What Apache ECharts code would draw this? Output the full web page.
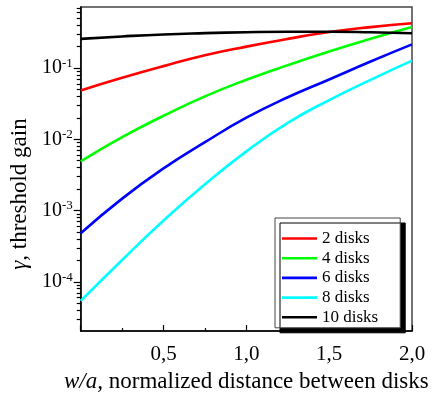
<!DOCTYPE html>
<html>
<head>
<meta charset="utf-8">
<script src="https://cdn.jsdelivr.net/npm/echarts@6/dist/echarts.min.js"></script>
<style>
  html, body { margin: 0; padding: 0; background: #fff; }
  #chart { width: 432px; height: 398px; }
</style>
</head>
<body>
<div id="chart"></div>
<script>
const xValues = [0, 0.25, 0.5, 0.75, 1.0, 1.25, 1.5, 1.75, 2.0]
const gain2 = [0.0485, 0.073, 0.1065, 0.151, 0.200, 0.257, 0.321, 0.376, 0.426]
const gain4 = [0.0049, 0.0107, 0.0214, 0.0401, 0.0685, 0.110, 0.171, 0.257, 0.376]
const gain6 = [0.00048, 0.00147, 0.0039, 0.0091, 0.0201, 0.0389, 0.0692, 0.1235, 0.215]
const gain8 = [0.0000538, 0.000202, 0.000724, 0.00234, 0.00676, 0.0170, 0.0355, 0.0684, 0.1274]
const gain10 = [0.257, 0.278, 0.2965, 0.309, 0.319, 0.324, 0.324, 0.318, 0.308]

const seriesNames = ['2 disks', '4 disks', '6 disks', '8 disks', '10 disks']
const seriesColors = ['#ff0000', '#00ff00', '#0000ff', '#00ffff', '#000000']
const seriesData = [gain2, gain4, gain6, gain8, gain10]

const xTickLabels = ['', '0,5', '1,0', '1,5', '2,0']
const yTickPowers = [-4, -3, -2, -1]
const yRange = [2.03e-5, 0.72]

const font = 'Liberation Serif'
const yMin = Math.log10(yRange[0])
const yMax = Math.log10(yRange[1])

// minor decade ticks (2..9 x 10^p)
const yMinorTicks = []
for (let p = -5; p <= 0; p++) {
  for (let k = 2; k <= 9; k++) {
    const v = Math.log10(k * Math.pow(10, p))
    if (v > yMin && v < yMax) yMinorTicks.push(v)
  }
}

const chart = echarts.init(document.getElementById('chart'))
chart.setOption({
  animation: false,
  grid: {
    left: 80, right: 20, top: 7, bottom: 58,
    show: true, borderColor: '#444', borderWidth: 1.5
  },
  legend: {
    data: seriesNames,
    orient: 'vertical',
    left: 275, top: 218,
    icon: 'path://M0,0H35V2.6H0Z',
    itemWidth: 35, itemHeight: 14, itemGap: 2.7,
    padding: [12, 22, 2, 7],
    backgroundColor: '#fff',
    borderColor: '#444', borderWidth: 1,
    shadowColor: '#000', shadowOffsetX: 5, shadowOffsetY: 5, shadowBlur: 0,
    textStyle: { fontFamily: font, fontSize: 17, color: '#000' }
  },
  xAxis: {
    type: 'value',
    min: 0, max: 2, interval: 0.5,
    splitLine: { show: false },
    axisLine: { lineStyle: { color: '#000', width: 1.5 } },
    axisTick: { inside: true, length: 6, lineStyle: { color: '#000', width: 1.2 } },
    minorTick: { show: true, splitNumber: 2, length: 3, lineStyle: { color: '#000', width: 1.2 } },
    axisLabel: {
      margin: 13,
      fontFamily: font, fontSize: 21, color: '#000',
      formatter: v => xTickLabels[Math.round(v / 0.5)] || ''
    },
    name: '{i|w/a,} normalized distance between disks',
    nameLocation: 'middle',
    nameGap: 33,
    nameTextStyle: {
      fontFamily: font, fontSize: 23, color: '#000',
      rich: { i: { fontFamily: font, fontSize: 23, fontStyle: 'italic', color: '#000' } }
    }
  },
  yAxis: [
    {
      type: 'value',
      min: yMin, max: yMax,
      splitLine: { show: false },
      axisLine: { lineStyle: { color: '#000', width: 1.5 } },
      axisTick: { customValues: yTickPowers, length: 7, lineStyle: { color: '#000', width: 1.2 } },
      axisLabel: {
        customValues: yTickPowers,
        margin: 8,
        formatter: v => '{b|10}{s|' + Math.round(v) + '}',
        rich: {
          b: { fontFamily: font, fontSize: 20, color: '#000', lineHeight: 22 },
          s: { fontFamily: font, fontSize: 13, color: '#000', lineHeight: 13, verticalAlign: 'top' }
        }
      },
      name: '{i|γ,} threshold gain',
      nameLocation: 'middle',
      nameGap: 46,
      nameTextStyle: {
        fontFamily: font, fontSize: 23, color: '#000',
        padding: [0, 50, 0, 0],
        rich: { i: { fontFamily: font, fontSize: 23, fontStyle: 'italic', color: '#000' } }
      }
    },
    {
      type: 'value',
      min: yMin, max: yMax,
      position: 'left',
      splitLine: { show: false },
      axisLine: { show: false },
      axisTick: { customValues: yMinorTicks, length: 4, lineStyle: { color: '#000', width: 1.2 } },
      axisLabel: { show: false }
    }
  ],
  series: seriesData.map((arr, i) => ({
    name: seriesNames[i],
    type: 'line',
    smooth: true,
    symbol: 'none',
    color: seriesColors[i],
    lineStyle: { width: 2.6, color: seriesColors[i] },
    data: xValues.map((x, j) => [x, Math.log10(arr[j])])
  }))
})
</script>
</body>
</html>
